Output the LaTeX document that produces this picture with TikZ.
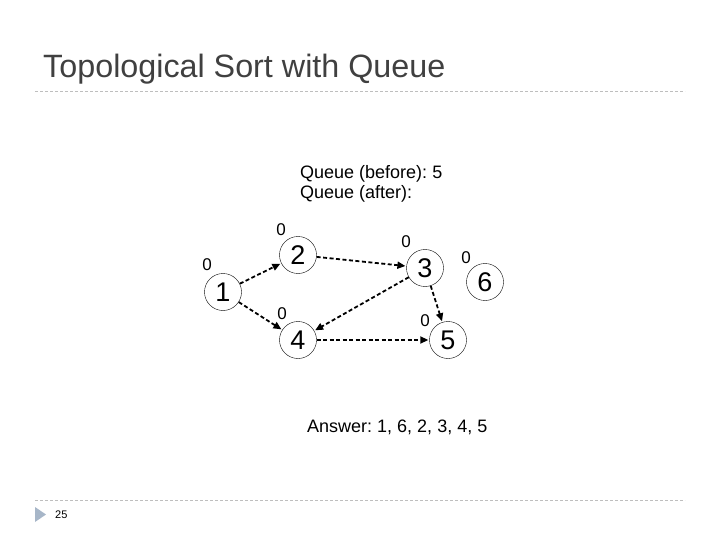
\documentclass[tikz,border=0pt]{standalone}
\usepackage{fontspec}
\setmainfont{Liberation Sans}
\usetikzlibrary{arrows.meta}
\definecolor{titlegray}{HTML}{404040}
\definecolor{rulegray}{HTML}{BEBEBE}
\definecolor{tribl}{HTML}{A7B6C8}
\frenchspacing
\begin{document}
\begin{tikzpicture}[x=1pt,y=-1pt,
  vert/.style={circle,draw,thin,minimum size=37pt,inner sep=0pt,font=\fontsize{27}{27}\selectfont},
  deg/.style={font=\fontsize{17}{17}\selectfont},
  lbl/.style={anchor=base west,inner sep=0pt,font=\fontsize{18}{18}\selectfont},
  edge/.style={draw,dashed,line width=1.8pt,dash pattern=on 4pt off 2.5pt,-{Triangle[length=8pt,width=7pt]},shorten >=1pt},
  rulestyle/.style={draw=rulegray,dashed,dash pattern=on 3pt off 2pt,line width=0.8pt}]
\useasboundingbox (0,0) rectangle (720,540);
\node[anchor=base west,text=titlegray,font=\fontsize{32.3}{32.3}\selectfont,inner sep=0pt] (title) at (43,78) {Topological Sort with Queue};
\coordinate (t1) at (35,91);
\coordinate (t2) at (685,91);
\draw[rulestyle] (t1) -- (t2);
\coordinate (b1) at (35,500);
\coordinate (b2) at (685,500);
\draw[rulestyle] (b1) -- (b2);
\fill[tribl] (35,507) -- (46,514.5) -- (35,522) -- cycle;
\node[anchor=base west,inner sep=0pt,font=\fontsize{11}{11}\selectfont] (pg) at (55,518) {25};
\node[lbl] (qb) at (300,179) {Queue (before): 5};
\node[lbl] (qa) at (300,199) {Queue (after):};
\node[lbl] (ans) at (307,432) {Answer: 1, 6, 2, 3, 4, 5};
\node[vert] (n1) at (223,292) {1};
\node[vert] (n2) at (298,255) {2};
\node[vert] (n3) at (425,268) {3};
\node[vert] (n6) at (485,282) {6};
\node[vert] (n4) at (298,340) {4};
\node[vert] (n5) at (448,340) {5};
\node[deg] (d1) at (207,265) {0};
\node[deg] (d2) at (281,230) {0};
\node[deg] (d3) at (406,242) {0};
\node[deg] (d6) at (466,258) {0};
\node[deg] (d4) at (282,314) {0};
\node[deg] (d5) at (425,321) {0};
\draw[edge] (n1) -- (n2);
\draw[edge] (n1) -- (n4);
\draw[edge] (n2) -- (n3);
\draw[edge] (n3) -- (n4);
\draw[edge] (n3) -- (n5);
\draw[edge] (n4) -- (n5);
\end{tikzpicture}
\end{document}
